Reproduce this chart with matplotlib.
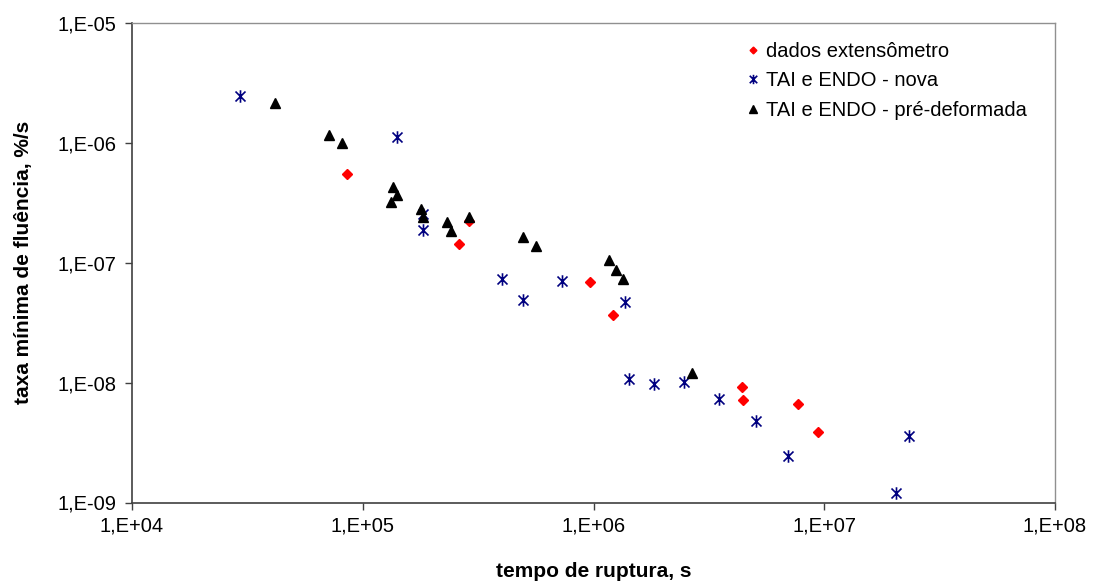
import math

import matplotlib

matplotlib.use("Agg")
import matplotlib.pyplot as plt
from matplotlib.path import Path
from matplotlib.ticker import FixedLocator, FuncFormatter, NullLocator

plt.rcParams["font.family"] = ["Liberation Sans", "DejaVu Sans"]

# dados extensômetro
ext_t = [8.58e4, 2.60e5, 2.90e5, 9.66e5, 1.21e6, 4.39e6, 4.43e6, 7.73e6, 9.40e6]
ext_rate = [5.51e-7, 1.44e-7, 2.24e-7, 6.87e-8, 3.65e-8, 9.27e-9, 7.13e-9, 6.61e-9, 3.90e-9]

# TAI e ENDO - nova
nova_t = [2.94e4, 1.41e5, 1.82e5, 1.82e5, 4.01e5, 4.97e5, 7.28e5, 1.37e6,
          1.42e6, 1.83e6, 2.46e6, 3.50e6, 5.06e6, 6.98e6, 2.05e7, 2.33e7]
nova_rate = [2.48e-6, 1.12e-6, 2.55e-7, 1.87e-7, 7.28e-8, 4.90e-8, 7.05e-8, 4.74e-8,
             1.07e-8, 9.82e-9, 1.01e-8, 7.31e-9, 4.82e-9, 2.42e-9, 1.20e-9, 3.61e-9]

# TAI e ENDO - pré-deformada
pre_t = [4.18e4, 7.14e4, 8.11e4, 1.35e5, 1.41e5, 1.32e5, 1.78e5, 1.82e5, 2.31e5,
         2.41e5, 2.90e5, 4.97e5, 5.64e5, 1.17e6, 1.25e6, 1.34e6, 2.68e6]
pre_rate = [2.16e-6, 1.17e-6, 9.98e-7, 4.32e-7, 3.66e-7, 3.24e-7, 2.79e-7, 2.43e-7, 2.18e-7,
            1.85e-7, 2.43e-7, 1.63e-7, 1.39e-7, 1.05e-7, 8.71e-8, 7.28e-8, 1.21e-8]

x_exps = [4, 5, 6, 7, 8]
y_exps = [-9, -8, -7, -6, -5]

# Excel-style star: an "x" with a vertical bar
star = Path(
    [(0, -1), (0, 1), (-0.8, -0.8), (0.8, 0.8), (-0.8, 0.8), (0.8, -0.8)],
    [Path.MOVETO, Path.LINETO, Path.MOVETO, Path.LINETO, Path.MOVETO, Path.LINETO],
)

fig = plt.figure(figsize=(10.93, 5.81), dpi=100)
ax = fig.add_axes([132 / 1093, 1 - 502.5 / 581, (1055 - 132) / 1093, (502.5 - 23) / 581])

ax.plot(ext_t, ext_rate, ls="none", marker="D", ms=4.6, color="#ff0000",
        mec="#ff0000", label="dados extensômetro")
ax.plot(nova_t, nova_rate, ls="none", marker=star, ms=9, color="#000080",
        mec="#000080", mew=1.2, label="TAI e ENDO - nova")
ax.plot(pre_t, pre_rate, ls="none", marker="^", ms=7.2, color="black",
        label="TAI e ENDO - pré-deformada")

ax.set_xscale("log")
ax.set_yscale("log")
ax.set_xlim(1e4, 1e8)
ax.set_ylim(1e-9, 1e-5)

fmt = FuncFormatter(lambda v, pos: "1,E%+03d" % round(math.log10(v)))
ax.xaxis.set_major_locator(FixedLocator([10.0 ** e for e in x_exps]))
ax.yaxis.set_major_locator(FixedLocator([10.0 ** e for e in y_exps]))
ax.xaxis.set_minor_locator(NullLocator())
ax.yaxis.set_minor_locator(NullLocator())
ax.xaxis.set_major_formatter(fmt)
ax.yaxis.set_major_formatter(fmt)
ax.tick_params(axis="both", direction="out", length=5, width=1, color="#404040",
               labelsize=14.5)
ax.tick_params(axis="x", pad=5)
ax.tick_params(axis="y", pad=6)

for side in ("left", "bottom"):
    ax.spines[side].set_color("#404040")
    ax.spines[side].set_linewidth(1.2)
for side in ("top", "right"):
    ax.spines[side].set_color("#909090")
    ax.spines[side].set_linewidth(1.0)

ax.set_xlabel("tempo de ruptura, s", fontsize=15, fontweight="bold", labelpad=19)
ax.set_ylabel("taxa mínima de fluência, %/s", fontsize=15, fontweight="bold", labelpad=18)

ax.legend(loc="upper left", bbox_to_anchor=(746.5 / 1093, 1 - 42 / 581),
          bbox_transform=fig.transFigure, frameon=False, fontsize=14.5,
          borderpad=0, borderaxespad=0, handlelength=0.6, handletextpad=0.35,
          labelspacing=0.52, markerscale=0.75)

fig.savefig("out.png", dpi=100)
